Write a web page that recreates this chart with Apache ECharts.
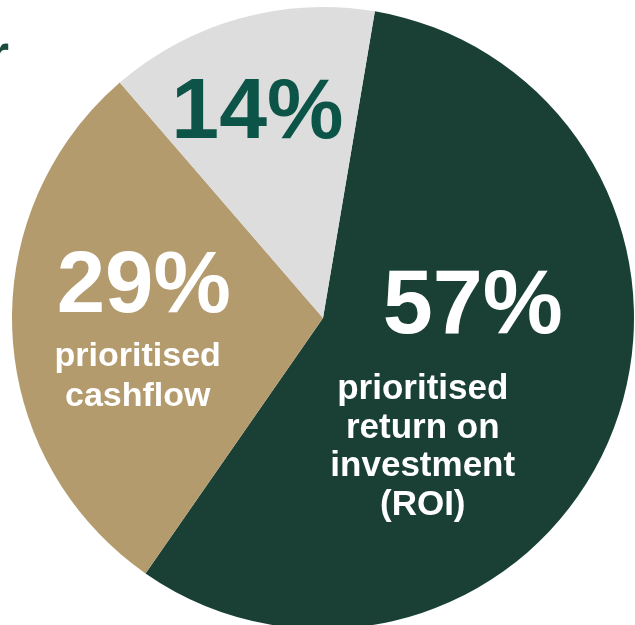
<!DOCTYPE html>
<html>
<head>
<meta charset="utf-8">
<script src="https://cdn.jsdelivr.net/npm/echarts@6/dist/echarts.min.js"></script>
<style>
  html, body { margin: 0; padding: 0; background: #ffffff; }
  #chart { width: 635px; height: 625px; }
</style>
</head>
<body>
<div id="chart"></div>
<script>
// Survey split: what businesses prioritised
const categories = ['prioritised\nreturn on\ninvestment\n(ROI)', 'prioritised\ncashflow', ''];
const shares = [57, 29, 14];
const sliceColors = ['#1a4036', '#b39b6e', '#dddddd'];
const pctColors = ['#ffffff', '#ffffff', '#0b5447'];
// label nudges from the default in-slice anchor
const labelShift = [[-47, 7], [-27, 2], [-23, -51]];
// per-slice text sizing: percentage size / line height / left pad, description size / line height
const pctSize = [90, 87, 86];
const pctLine = [125, 96, 84];
const pctPad = [100, 12, 0];
const descSize = [35, 34, 34];
const descLine = [38.5, 40, 40];

const chart = echarts.init(document.getElementById('chart'), null, { renderer: 'canvas' });

const FONT = 'Liberation Sans, Arial, sans-serif';
const rich = {};
shares.forEach((v, i) => {
  rich['pct' + i] = {
    fontFamily: FONT,
    fontWeight: 'bold',
    fontSize: pctSize[i],
    lineHeight: pctLine[i],
    color: pctColors[i],
    padding: [0, 0, 0, pctPad[i]],
    align: 'center'
  };
  rich['desc' + i] = {
    fontFamily: FONT,
    fontWeight: 'bold',
    fontSize: descSize[i],
    lineHeight: descLine[i],
    color: '#ffffff',
    align: 'center'
  };
});

const data = shares.map((v, i) => {
  let text = '{pct' + i + '|' + v + '%}';
  if (categories[i]) {
    text += categories[i].split('\n').map(s => '\n{desc' + i + '|' + s + '}').join('');
  }
  return {
    name: categories[i],
    value: v,
    itemStyle: { color: sliceColors[i] },
    label: { formatter: text }
  };
});

chart.setOption({
  animation: false,
  backgroundColor: '#ffffff',
  title: {
    text: 'r',
    left: -12,
    top: 30,
    padding: 0,
    textStyle: {
      fontFamily: FONT,
      fontWeight: 'bold',
      fontSize: 54,
      color: '#1b4a3f'
    }
  },
  series: [{
    type: 'pie',
    center: [323, 318],
    radius: [0, 311],
    startAngle: 80.4,
    clockwise: true,
    silent: true,
    data: data,
    label: {
      show: true,
      position: 'inside',
      align: 'center',
      verticalAlign: 'middle',
      rich: rich
    },
    labelLine: { show: false },
    labelLayout: function (params) {
      const s = labelShift[params.dataIndex];
      return { dx: s[0], dy: s[1] };
    }
  }]
});
</script>
</body>
</html>
